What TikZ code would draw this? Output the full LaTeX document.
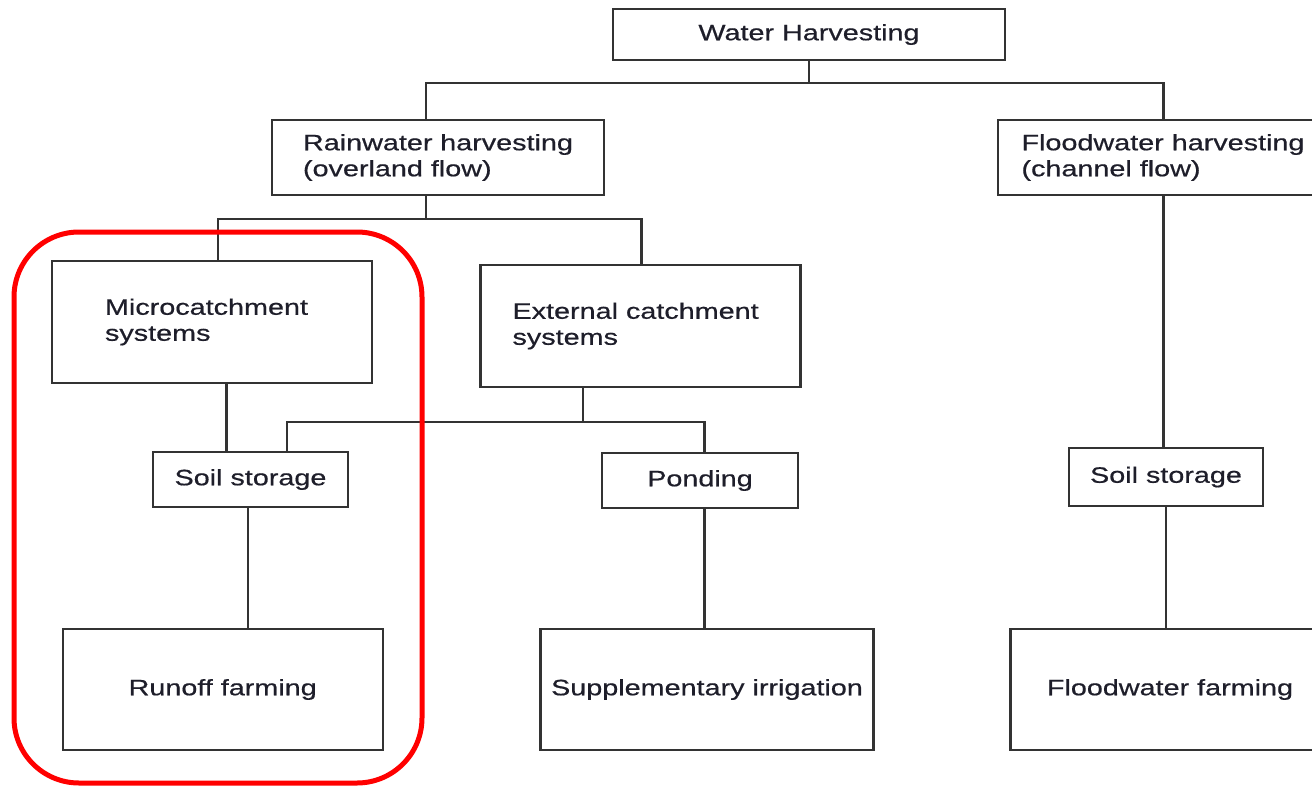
\documentclass[tikz,border=0pt]{standalone}
\usepackage{fontspec}
\newfontfamily\boxfont[FakeStretch=1.29,FakeBold=0.6]{Liberation Sans}
\definecolor{linegray}{HTML}{333333}
\definecolor{txtgray}{HTML}{1E1E2A}
\begin{document}
\begin{tikzpicture}[x=1pt,y=-1pt,
  box/.style={draw=linegray, line width=2.2pt, inner sep=0pt, align=left, text=txtgray,
              font=\boxfont\fontsize{22.3}{26}\selectfont},
  conn/.style={draw=linegray, line width=2.2pt},
  hilite/.style={draw=red, line width=5pt, rounded corners=65pt}]
\useasboundingbox (0,0) rectangle (1312,787);
\clip (0,0) rectangle (1312,787);

\node[box, minimum width=392pt, minimum height=51pt] (wh) at (809,34.5) {Water Harvesting};
\node[box, minimum width=332pt, minimum height=75pt] (rain) at (438,157.5) {\raisebox{-2pt}{\parbox{270pt}{Rainwater harvesting\\(overland flow)}}};
\node[box, minimum width=331pt, minimum height=75pt] (flood) at (1163.5,157.5) {\raisebox{-2pt}{\parbox{284pt}{Floodwater harvesting\\(channel flow)}}};
\node[box, minimum width=320pt, minimum height=122pt] (micro) at (212,322) {\raisebox{-2pt}{\parbox{214pt}{Microcatchment\\systems}}};
\node[box, minimum width=320pt, minimum height=122pt] (ext) at (640.5,326) {\raisebox{-2pt}{\parbox{256pt}{External catchment\\systems}}};
\node[box, minimum width=195pt, minimum height=55pt] (soil1) at (250.5,479.5) {Soil storage};
\node[box, minimum width=196pt, minimum height=55pt] (pond) at (700,480.5) {Ponding};
\node[box, minimum width=194pt, minimum height=58pt] (soil2) at (1166,477) {Soil storage};
\node[box, minimum width=320pt, minimum height=121pt] (runoff) at (222.7,689.5) {Runoff farming};
\node[box, minimum width=333pt, minimum height=121pt] (supp) at (707,689.5) {Supplementary irrigation};
\node[box, minimum width=319pt, minimum height=121pt] (ffarm) at (1170,689.5) {Floodwater farming};

\coordinate (j1) at (809,83);
\draw[conn] (wh.south) -- (j1);
\draw[conn] ([xshift=-12pt]rain.north) |- (j1) -| (flood.north);

\coordinate (j2) at (426,219);
\draw[conn] ([xshift=-12pt]rain.south) -- (j2);
\draw[conn] ([xshift=6pt]micro.north) |- (j2) -| ([xshift=1pt]ext.north);

\draw[conn] ([xshift=14.5pt]micro.south) -- ([xshift=14.5pt]micro.south |- soil1.north);

\coordinate (j3) at (583,422);
\draw[conn] ([xshift=-57.5pt]ext.south) -- (j3);
\draw[conn] ([xshift=36.5pt]soil1.north) |- (j3) -| ([xshift=4.5pt]pond.north);

\draw[conn] ([xshift=-2.5pt]soil1.south) -- ([xshift=-2.5pt]soil1.south |- runoff.north);
\draw[conn] ([xshift=4.5pt]pond.south) -- ([xshift=4.5pt]pond.south |- supp.north);
\draw[conn] (flood.south) -- (flood.south |- soil2.north);
\draw[conn] (soil2.south) -- (soil2.south |- ffarm.north);

\draw[hilite] (14,232) rectangle (422,783);
\end{tikzpicture}
\end{document}
